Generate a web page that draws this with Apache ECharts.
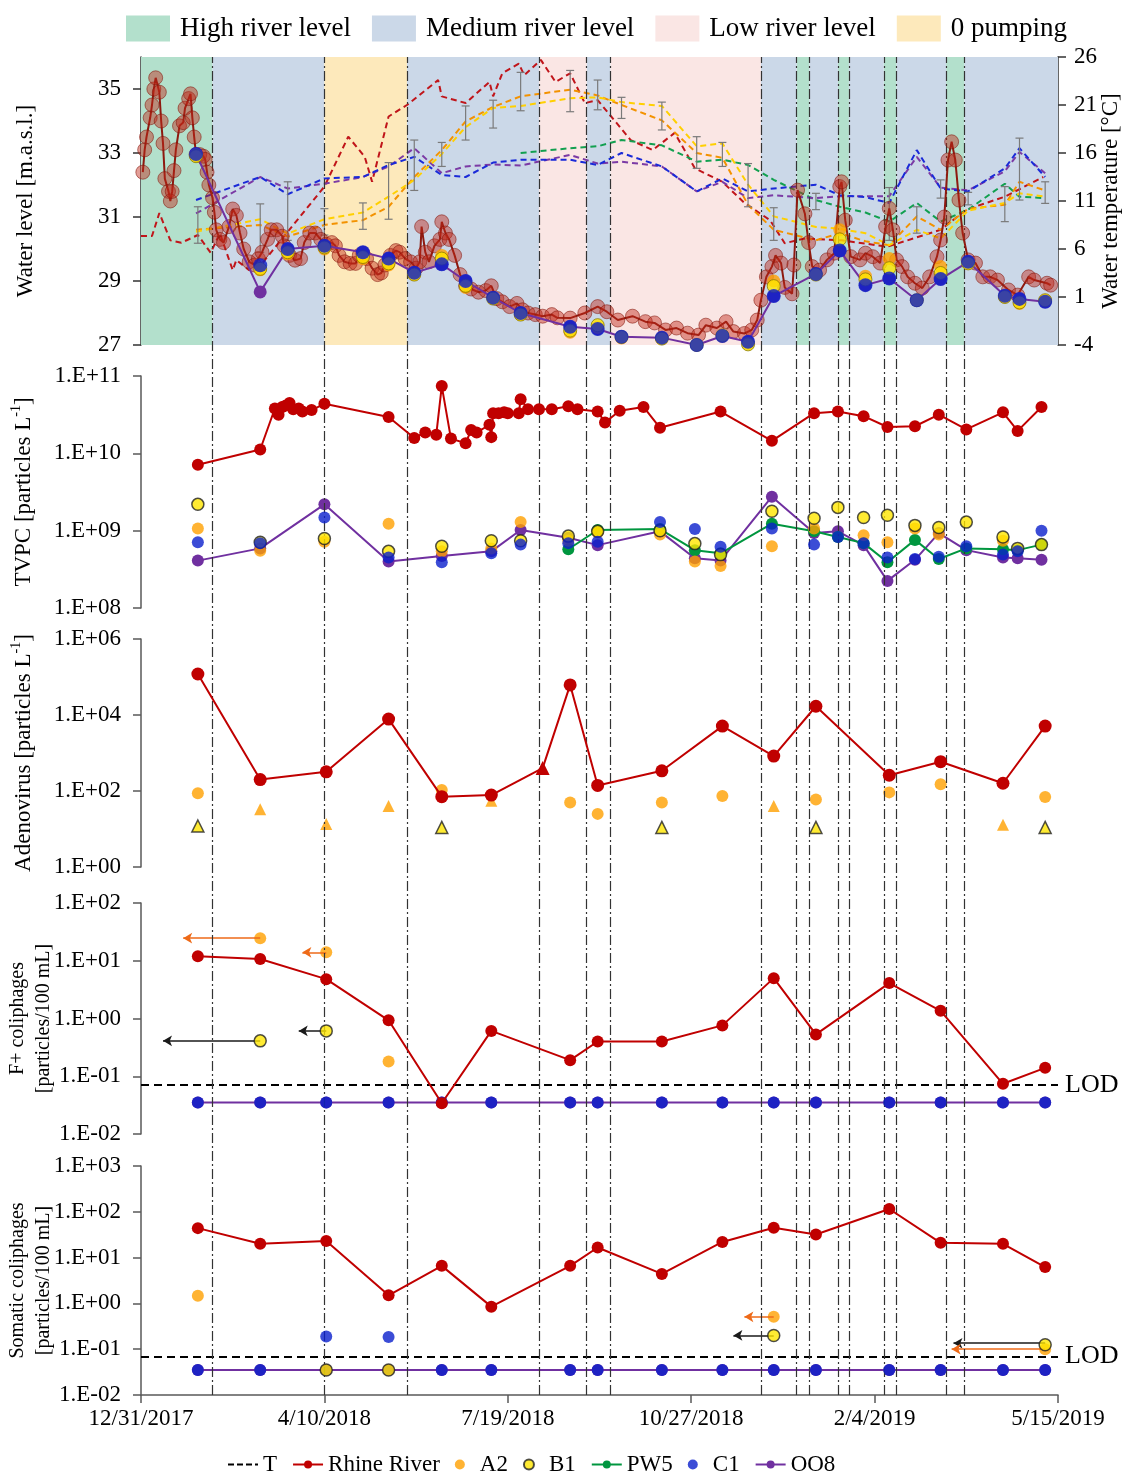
<!DOCTYPE html>
<html>
<head>
<meta charset="utf-8">
<script src="https://cdn.jsdelivr.net/npm/echarts@6/dist/echarts.min.js"></script>
<style>
  html, body { margin: 0; padding: 0; background: #fff; }
  #chart { width: 1132px; height: 1472px; }
</style>
</head>
<body>
<div id="chart"></div>
<script>
// x values are days after 12/31/2017
const bandEdges = [0, 39, 100, 145, 217, 243, 256, 338, 357.5, 364.5, 380, 386, 405, 412, 439, 449, 500];
const bandKinds = ['High river level', 'Medium river level', '0 pumping', 'Medium river level', 'Low river level',
  'Medium river level', 'Low river level', 'Medium river level', 'High river level', 'Medium river level',
  'High river level', 'Medium river level', 'High river level', 'Medium river level', 'High river level', 'Medium river level'];
const bandNames = ['High river level', 'Medium river level', 'Low river level', '0 pumping'];

// Rhine water level [m.a.s.l.]
const wlDays = [1, 2, 3, 5, 6, 7, 8, 10, 11, 12,
  13, 15, 16, 17, 18, 19, 21, 23, 24, 26,
  27, 28, 29, 30, 32, 34, 35, 36, 37, 39,
  40, 41, 43, 45, 48, 50, 52, 54, 56, 59,
  62, 64, 66, 69, 71, 74, 77, 78, 81, 84,
  87, 89, 92, 95, 98, 101, 104, 106, 108, 111,
  114, 117, 119, 121, 123, 126, 129, 131, 133, 136,
  139, 141, 144, 147, 150, 152, 153, 155, 157, 160,
  163, 164, 166, 168, 171, 174, 177, 180, 184, 188,
  191, 194, 197, 201, 205, 208, 211, 215, 219, 224,
  227, 234, 242, 249, 254, 260, 268, 275, 280, 286,
  292, 298, 304, 308, 314, 319, 323, 329, 333, 336,
  338, 341, 344, 346, 349, 351, 355, 356, 358, 362,
  364, 366, 370, 374, 378, 381, 382, 384, 387, 392,
  395, 399, 403, 406, 408, 410, 412, 415, 418, 422,
  426, 430, 434, 436, 438, 440, 442, 444, 446, 448,
  451, 455, 459, 463, 467, 473, 478, 484, 487, 494, 496];
const wlRhine = [32.4, 33.1, 33.5, 34.1, 34.5, 35.0, 35.35, 34.9, 34.0, 33.3,
  32.2, 31.8, 31.5, 31.8, 32.45, 33.1, 33.85, 33.95, 34.4, 34.7,
  34.85, 34.1, 33.5, 32.95, 32.95, 32.9, 32.8, 32.4, 32.0, 31.6,
  31.15, 30.6, 30.3, 30.2, 30.7, 31.25, 31.05, 30.5, 30.0, 29.6,
  29.5, 29.7, 29.9, 30.3, 30.6, 30.6, 30.4, 30.1, 29.8, 29.65,
  29.7, 30.2, 30.5, 30.5, 30.3, 30.15, 30.2, 30.1, 29.8, 29.6,
  29.55, 29.55, 29.8, 29.85, 29.7, 29.4, 29.2, 29.25, 29.5, 29.8,
  29.95, 29.9, 29.7, 29.6, 29.4, 29.6, 30.7, 29.9, 29.6, 30.1,
  30.3, 30.85, 30.5, 30.3, 29.8, 29.2, 28.85, 28.75, 28.65, 28.7,
  28.85, 28.45, 28.35, 28.2, 28.3, 28.1, 28.0, 27.95, 27.9, 27.95,
  27.85, 27.84, 28.0, 28.2, 28.04, 27.78, 27.9, 27.73, 27.69, 27.47,
  27.53, 27.37, 27.31, 27.62, 27.53, 27.73, 27.42, 27.36, 27.47, 27.78,
  28.4, 29.13, 29.45, 29.8, 29.56, 28.8, 28.6, 29.5, 31.84, 31.1,
  30.2, 29.45, 29.34, 29.66, 29.87, 31.95, 32.1, 30.9, 29.76, 29.66,
  29.87, 29.76, 29.56, 30.7, 31.27, 30.6, 29.66, 29.45, 29.13, 28.93,
  28.78, 29.13, 29.76, 30.28, 31.0, 32.78, 33.35, 32.78, 31.53, 30.5,
  29.66, 29.56, 29.13, 29.13, 29.03, 28.72, 28.56, 29.13, 29.03, 28.93, 28.87];

// groundwater level [m.a.s.l.]
const gwDays = [30, 65, 80, 100, 121, 135, 149, 164, 177, 192, 207, 234, 249, 262, 284, 303, 317, 331, 345, 368, 381, 395, 408, 423, 436, 451, 471, 479, 493];
const gwC1 = [32.97, 29.49, 30.0, 30.1, 29.9, 29.7, 29.26, 29.52, 29.0, 28.48, 28.0, 27.57, 27.5, 27.26, 27.23, 27.0, 27.28, 27.1, 28.53, 29.22, 29.95, 28.87, 29.08, 28.4, 29.06, 29.6, 28.54, 28.44, 28.35];
const gwOO8 = [32.97, 28.66, 30.0, 30.1, 29.9, 29.7, 29.26, 29.52, 29.0, 28.48, 28.0, 27.57, 27.5, 27.26, 27.23, 27.0, 27.28, 27.1, 28.53, 29.22, 29.95, 28.87, 29.08, 28.4, 29.06, 29.6, 28.54, 28.44, 28.35];
const gwB1 = [32.9, 29.38, 29.9, 30.05, 29.75, 29.55, 29.2, 29.7, 28.85, 28.45, 27.95, 27.45, 27.62, 27.25, 27.2, 27.0, 27.3, 27.02, 28.84, 29.2, 30.3, 29.05, 29.4, 28.4, 29.25, 29.55, 28.5, 28.33, 28.4];
const gwA2 = [32.95, 29.35, 29.85, 30.0, 29.7, 29.5, 29.2, 29.8, 28.8, 28.45, 27.95, 27.4, 27.55, 27.22, 27.2, 27.0, 27.28, 27.05, 29.0, 29.2, 30.6, 29.15, 29.7, 28.4, 29.45, 29.55, 28.5, 28.3, 28.4];

// water temperature [°C]
const tRhineDays = [0, 6, 10, 16, 22, 31, 38, 43, 50, 52, 59, 66, 100, 113, 122, 126, 135, 145, 162, 164,
  177, 190, 192, 197, 206, 209, 218, 226, 234, 242, 249, 267, 279, 291, 302, 317, 329, 343, 351, 362,
  382, 407, 436, 450, 471, 492];
const tRhine = [7.35, 7.35, 9.75, 6.9, 6.65, 7.46, 5.6, 7.65, 3.8, 4.85, 3.8, 4.5, 12.5, 17.7, 15.6, 13.0, 19.8, 21.0, 23.6, 21.9,
  21.2, 23.4, 21.9, 24.3, 25.3, 24.1, 25.7, 23.4, 24.3, 21.2, 21.5, 17.35, 16.3, 18.1, 14.4, 13.0, 10.8, 9.0, 6.6, 7.1,
  6.9, 6.24, 8.0, 10.1, 11.45, 13.5];
const tA2 = [8.0, 8.5, 7.3, 8.5, 9.0, 10.4, 13.5, 16.3, 19.3, 20.8, 21.9, 22.6, 22.0, 21.0, 19.4, 16.0, 15.5, 10.6, 8.0, 6.9, 7.65, 6.8, 6.4, 9.4, 8.0, 10.2, 10.6, 13.0, 12.1];
const tB1 = [7.8, 9.1, 7.6, 9.1, 9.8, 11.45, 13.2, 15.9, 18.7, 20.7, 20.9, 21.7, 21.8, 21.3, 20.9, 16.7, 17.0, 12.7, 9.4, 8.3, 8.1, 7.65, 6.4, 8.0, 7.1, 10.0, 10.8, 11.8, 11.45];
const tC1 = [11.1, 13.5, 11.7, 13.35, 13.5, 14.75, 15.6, 13.7, 13.5, 15.0, 15.3, 15.3, 14.75, 16.0, 14.6, 12.0, 13.35, 12.0, 12.3, 12.7, 11.6, 11.4, 10.8, 16.3, 12.3, 12.0, 14.4, 16.5, 13.5];
const tOO8 = [9.7, 13.5, 12.3, 12.8, 13.5, 14.6, 16.5, 13.9, 14.6, 14.8, 14.7, 15.8, 14.9, 15.1, 14.6, 12.0, 13.0, 11.3, 11.6, 11.3, 11.5, 11.5, 11.5, 15.6, 12.4, 12.1, 14.1, 16.1, 13.9];
const tPW5Days = [207, 234, 249, 262, 284, 303, 317, 331, 345, 368, 381, 395, 408, 423, 436, 451, 471, 479, 493];
const tPW5 = [16.0, 16.5, 16.7, 17.35, 16.8, 15.1, 15.3, 14.75, 13.2, 11.1, 10.4, 9.8, 8.85, 10.8, 8.85, 10.1, 12.8, 11.45, 11.3];
const ebDays = [31, 65, 80, 100, 121, 135, 149, 164, 177, 192, 207, 234, 249, 262, 284, 303, 317, 331, 345, 368, 408, 423, 436, 451, 471, 479, 493];
const ebLow = [6.6, 5.65, 6.9, 7.45, 8.05, 9.1, 12.1, 14.6, 17.35, 18.6, 20.4, 20.3, 20.5, 19.6, 18.4, 14.4, 14.6, 10.4, 6.9, 10.1, 6.9, 7.65, 11.3, 10.6, 8.85, 11.1, 10.75];
const ebHigh = [10.4, 10.7, 13.0, 10.2, 10.8, 15.0, 17.35, 17.1, 20.9, 21.5, 24.4, 24.6, 23.6, 21.8, 21.3, 17.7, 17.1, 14.9, 10.3, 11.8, 12.4, 10.4, 13.2, 11.9, 12.5, 17.55, 13.0];

// TVPC [particles/L]
const tvpcRhineDays = [31, 65, 73, 75, 77, 79, 81, 83, 86, 88, 93, 100, 135, 149, 155, 161, 164, 169, 177, 180,
  183, 190, 191, 192, 195, 198, 200, 206, 207, 211, 217, 224, 233, 238, 249, 253, 261, 274, 283, 316,
  344, 367, 380, 394, 407, 422, 435, 450, 470, 478, 491];
const tvpcRhine = [7.1e9, 1.12e10, 3.8e10, 3.16e10, 3.98e10, 4.17e10, 4.47e10, 3.72e10, 3.8e10, 3.47e10,
  3.63e10, 4.37e10, 2.95e10, 1.58e10, 1.86e10, 1.74e10, 7.41e10, 1.55e10, 1.35e10, 2.0e10,
  1.86e10, 2.34e10, 1.62e10, 3.31e10, 3.31e10, 3.39e10, 3.31e10, 3.31e10, 5.0e10, 3.72e10,
  3.72e10, 3.72e10, 4.07e10, 3.72e10, 3.47e10, 2.51e10, 3.55e10, 3.98e10, 2.14e10, 3.47e10,
  1.45e10, 3.31e10, 3.47e10, 3.02e10, 2.19e10, 2.24e10, 3.16e10, 2.04e10, 3.39e10, 1.95e10, 3.98e10];
const tvpcDays = [31, 65, 100, 135, 164, 191, 207, 233, 249, 283, 302, 316, 344, 367, 380, 394, 407, 422, 435, 450, 470, 478, 491];
const tvpcC1 = [7.1e8, 6.9e8, 1.48e9, 4.5e8, 3.9e8, 5.1e8, 6.6e8, 6.9e8, 7.2e8, 1.29e9, 1.05e9, 6.2e8, 1.07e9, 6.6e8, 8.3e8, 6.9e8, 4.5e8, 4.3e8, 4.6e8, 6.3e8, 4.9e8, 5.4e8, 1.0e9];
const tvpcOO8 = [4.1e8, 5.9e8, 2.19e9, 4.0e8, 4.7e8, 5.4e8, 1.02e9, 8.1e8, 6.5e8, 9.8e8, 4.4e8, 4.1e8, 2.75e9, 9.3e8, 9.8e8, 6.5e8, 2.24e8, 4.2e8, 9.3e8, 5.6e8, 4.5e8, 4.4e8, 4.2e8];
const tvpcB1 = [2.19e9, 7.1e8, 7.9e8, 5.4e8, 6.3e8, 7.4e8, 7.4e8, 8.5e8, 9.8e8, 1.0e9, 6.8e8, 4.9e8, 1.78e9, 1.45e9, 2.0e9, 1.48e9, 1.58e9, 1.17e9, 1.1e9, 1.29e9, 8.3e8, 5.9e8, 6.6e8];
const tvpcA2 = [1.07e9, 5.5e8, 7.2e8, 1.23e9, 5.4e8, 5.9e8, 1.29e9, 7.4e8, 9.5e8, 8.9e8, 4.0e8, 3.5e8, 6.3e8, 1.07e9, null, 8.7e8, 7.1e8, 1.07e9, 8.9e8, null, 7.4e8, null, null];
const tvpcPW5Days = [233, 249, 283, 302, 316, 344, 367, 380, 394, 407, 422, 435, 450, 470, 478, 491];
const tvpcPW5 = [5.75e8, 1.02e9, 1.05e9, 5.6e8, 5.1e8, 1.23e9, 9.8e8, 8.3e8, 6.9e8, 3.9e8, 7.6e8, 4.3e8, 5.9e8, 5.75e8, 5.6e8, 6.6e8];

// Adenovirus [particles/L]
const adenoRhineDays = [31, 65, 101, 135, 164, 191, 219, 234, 249, 284, 317, 345, 368, 408, 436, 470, 493];
const adenoRhine = [1.2e5, 200, 320, 7800, 71, 78, 400, 6.2e4, 140, 340, 5100, 830, 1.7e4, 260, 590, 160, 5100];
const adenoRhineTri = [0, 0, 0, 0, 0, 0, 1, 0, 0, 0, 0, 0, 0, 0, 0, 0, 0];
const adenoA2Days = [31, 164, 234, 249, 284, 317, 368, 408, 436, 493];
const adenoA2 = [87, 107, 50, 25, 50, 74, 60, 92, 150, 70];
const adenoA2TriDays = [65, 101, 135, 191, 345, 470];
const adenoA2Tri = [33, 13.5, 40, 55, 40, 13];
const adenoB1TriDays = [31, 164, 284, 368, 493];
const adenoB1Tri = [12, 11, 11, 11, 11];

// coliphages [particles/100 mL]
const sampleDays = [31, 65, 101, 135, 164, 191, 234, 249, 284, 317, 345, 368, 408, 436, 470, 493];
const LOD = 0.07;
const fRhine = [12, 10.7, 4.8, 0.93, 0.034, 0.61, 0.19, 0.40, 0.40, 0.76, 5.0, 0.53, 4.1, 1.36, 0.074, 0.14];
const fC1 = [0.035, 0.035, 0.035, 0.035, 0.035, 0.035, 0.035, 0.035, 0.035, 0.035, 0.035, 0.035, 0.035, 0.035, 0.035, 0.035];
const fOO8 = [0.035, 0.035, 0.035, 0.035, 0.035, 0.035, 0.035, 0.035, 0.035, 0.035, 0.035, 0.035, 0.035, 0.035, 0.035, 0.035];
const fA2Days = [65, 101, 135];
const fA2 = [24.6, 14, 0.18];
const fB1Days = [65, 101];
const fB1 = [0.41, 0.61];
const fArrowSite = ['A2', 'A2', 'B1', 'B1'];
const fArrowFrom = [65, 101, 65, 101];
const fArrowTo = [23, 88, 12, 86];
const fArrowVal = [24.6, 14, 0.41, 0.61];

const sRhine = [44, 20, 23, 1.5, 6.6, 0.85, 6.6, 16.6, 4.4, 22, 45, 32, 115, 21, 20, 6.2];
const sC1 = [0.035, 0.035, 0.19, 0.185, 0.035, 0.035, 0.035, 0.035, 0.035, 0.035, 0.035, 0.035, 0.035, 0.035, 0.035, 0.035];
const sOO8 = [0.035, 0.035, 0.035, 0.035, 0.035, 0.035, 0.035, 0.035, 0.035, 0.035, 0.035, 0.035, 0.035, 0.035, 0.035, 0.035];
const sA2Days = [31, 345, 493];
const sA2 = [1.47, 0.51, 0.1];
const sB1Days = [101, 135, 345, 493];
const sB1 = [0.035, 0.035, 0.2, 0.125];
const sArrowSite = ['A2', 'B1', 'B1', 'A2'];
const sArrowFrom = [345, 345, 493, 493];
const sArrowTo = [329, 323, 443, 442];
const sArrowVal = [0.51, 0.2, 0.135, 0.1];

// ---------------------------------------------------------------
const FONT = '"Liberation Serif", "Times New Roman", serif';
const RED = '#c00000', ORANGE = '#ffa000', YELLOW = '#ffe600', GREEN = '#00963f', BLUE = '#0a1fcc', PURPLE = '#7030a0';
const bandColor = {
  'High river level': '#b3e0cc',
  'Medium river level': '#cbd8e8',
  'Low river level': '#fae6e4',
  '0 pumping': '#fde9bb'
};
const AXIS_C = '#595959';

function dayLabel(d) {
  const t = new Date(Date.UTC(2017, 11, 31) + d * 86400000);
  return (t.getUTCMonth() + 1) + '/' + t.getUTCDate() + '/' + t.getUTCFullYear();
}
function sci(v) {
  const e = Math.round(Math.log10(v));
  return '1.E' + (e < 0 ? '-' : '+') + String(Math.abs(e)).padStart(2, '0');
}
function pts(xs, ys) {
  const out = [];
  xs.forEach((x, i) => { if (ys[i] != null) out.push([x, ys[i]]); });
  return out;
}

const chart = echarts.init(document.getElementById('chart'));

const gridBox = (top, height) => ({ left: 141, right: 74, top: top, height: height, outerBoundsMode: 'none', containLabel: false });
const grids = [
  gridBox(57, 288),
  gridBox(376, 232),
  gridBox(639, 228),
  gridBox(903, 231),
  gridBox(1166, 229),
  gridBox(57, 1338)
];

function xAx(g, show) {
  return {
    type: 'value', gridIndex: g, min: 0, max: 500, interval: 100, show: show,
    axisLine: { lineStyle: { color: AXIS_C, width: 1.5 } },
    axisTick: { length: 8, lineStyle: { color: AXIS_C, width: 1.5 } },
    axisLabel: { formatter: dayLabel, fontFamily: FONT, fontSize: 23, color: '#000', margin: 12 },
    splitLine: { show: false }
  };
}
const nameStyle = (size) => ({
  fontFamily: FONT, fontSize: size, color: '#000', lineHeight: size + 6,
  rich: { sup: { fontFamily: FONT, fontSize: 14, color: '#000', verticalAlign: 'top' } }
});
function logAx(g, min, max, base, name, gap, size) {
  return {
    type: 'log', gridIndex: g, logBase: base, min: min, max: max,
    axisLine: { show: true, lineStyle: { color: AXIS_C, width: 1.5 } },
    axisTick: { show: true, length: 8, lineStyle: { color: AXIS_C, width: 1.5 } },
    axisLabel: { formatter: sci, fontFamily: FONT, fontSize: 23, color: '#000', margin: 20 },
    splitLine: { show: false }, minorTick: { show: false },
    name: name, nameLocation: 'middle', nameRotate: 90, nameGap: gap, nameMoveOverlap: false,
    nameTextStyle: nameStyle(size)
  };
}

const series = [];
// legend entries
series.push({ name: 'T', type: 'line', xAxisIndex: 5, yAxisIndex: 6, data: [], symbol: 'none', showSymbol: false,
  lineStyle: { color: '#000', type: [6, 3], width: 1.8 }, itemStyle: { color: '#000', opacity: 0 } });
series.push({ name: 'Rhine River', type: 'line', xAxisIndex: 5, yAxisIndex: 6, data: [], symbol: 'circle', symbolSize: 12,
  lineStyle: { color: RED, width: 2 }, itemStyle: { color: RED } });
series.push({ name: 'A2', type: 'scatter', xAxisIndex: 5, yAxisIndex: 6, data: [], symbolSize: 12, itemStyle: { color: ORANGE } });
series.push({ name: 'B1', type: 'scatter', xAxisIndex: 5, yAxisIndex: 6, data: [], symbolSize: 12,
  itemStyle: { color: YELLOW, borderColor: '#222', borderWidth: 1.5 } });
series.push({ name: 'PW5', type: 'line', xAxisIndex: 5, yAxisIndex: 6, data: [], symbol: 'circle', symbolSize: 12,
  lineStyle: { color: GREEN, width: 2 }, itemStyle: { color: GREEN } });
series.push({ name: 'C1', type: 'scatter', xAxisIndex: 5, yAxisIndex: 6, data: [], symbolSize: 12, itemStyle: { color: BLUE } });
series.push({ name: 'OO8', type: 'line', xAxisIndex: 5, yAxisIndex: 6, data: [], symbol: 'circle', symbolSize: 12,
  lineStyle: { color: PURPLE, width: 2 }, itemStyle: { color: PURPLE } });

// river level periods (panel 1 background)
bandNames.forEach(nm => {
  const areas = [];
  bandKinds.forEach((k, i) => { if (k === nm) areas.push([{ xAxis: bandEdges[i] }, { xAxis: bandEdges[i + 1] }]); });
  series.push({
    name: nm, type: 'line', xAxisIndex: 0, yAxisIndex: 0, data: [], z: 0,
    itemStyle: { color: bandColor[nm] }, lineStyle: { color: bandColor[nm] },
    markArea: { silent: true, itemStyle: { color: bandColor[nm], opacity: 1 }, data: areas }
  });
});

// panel 1: temperatures (right axis)
function tLine(name, days, vals, color) {
  series.push({ name: name, type: 'line', xAxisIndex: 0, yAxisIndex: 1, data: pts(days, vals), symbol: 'none', z: 3,
    lineStyle: { color: color, type: [6, 4], width: 2 } });
}
tLine('T Rhine', tRhineDays, tRhine, '#c0151a');
tLine('T PW5', tPW5Days, tPW5, '#12a050');
tLine('T OO8', gwDays, tOO8, '#7b3aa5');
tLine('T C1', gwDays, tC1, '#1a2ad8');
tLine('T A2', gwDays, tA2, '#f39200');
tLine('T B1', gwDays, tB1, '#ffd000');
series.push({
  name: 'T sd', type: 'custom', xAxisIndex: 0, yAxisIndex: 1, z: 4,
  data: ebDays.map((d, i) => [d, ebLow[i], ebHigh[i]]),
  encode: { x: 0, y: [1, 2] },
  renderItem: function (params, api) {
    const lo = api.coord([api.value(0), api.value(1)]);
    const hi = api.coord([api.value(0), api.value(2)]);
    const st = { stroke: '#7a7a7a', lineWidth: 1.2 };
    return { type: 'group', children: [
      { type: 'line', shape: { x1: lo[0], y1: lo[1], x2: hi[0], y2: hi[1] }, style: st },
      { type: 'line', shape: { x1: lo[0] - 4, y1: lo[1], x2: lo[0] + 4, y2: lo[1] }, style: st },
      { type: 'line', shape: { x1: hi[0] - 4, y1: hi[1], x2: hi[0] + 4, y2: hi[1] }, style: st }
    ] };
  }
});
// panel 1: water levels (left axis)
series.push({ name: 'WL Rhine', type: 'line', xAxisIndex: 0, yAxisIndex: 0, data: pts(wlDays, wlRhine), z: 5,
  symbol: 'circle', symbolSize: 14,
  itemStyle: { color: 'rgba(192,40,25,0.45)', borderColor: 'rgba(130,20,10,0.55)', borderWidth: 1 },
  lineStyle: { color: '#8e1a10', width: 2 } });
series.push({ name: 'WL OO8', type: 'line', xAxisIndex: 0, yAxisIndex: 0, data: pts(gwDays, gwOO8), z: 6,
  symbol: 'circle', symbolSize: 13, itemStyle: { color: PURPLE }, lineStyle: { color: PURPLE, width: 2 } });
series.push({ name: 'WL A2', type: 'scatter', xAxisIndex: 0, yAxisIndex: 0, data: pts(gwDays, gwA2), z: 7,
  symbolSize: 13, itemStyle: { color: ORANGE } });
series.push({ name: 'WL B1', type: 'scatter', xAxisIndex: 0, yAxisIndex: 0, data: pts(gwDays, gwB1), z: 8,
  symbolSize: 13, itemStyle: { color: YELLOW, borderColor: '#8a7a00', borderWidth: 1 } });
series.push({ name: 'WL C1', type: 'scatter', xAxisIndex: 0, yAxisIndex: 0, data: pts(gwDays, gwC1), z: 9,
  symbolSize: 14, itemStyle: { color: BLUE } });

// generic helpers for the lower panels
function sLine(name, xi, days, vals, color, z) {
  series.push({ name: name, type: 'line', xAxisIndex: xi, yAxisIndex: xi + 1, data: pts(days, vals), z: z,
    symbol: 'circle', symbolSize: 12, itemStyle: { color: color }, lineStyle: { color: color, width: 2 } });
}
function sDots(name, xi, days, vals, style, z, symbol) {
  series.push({ name: name, type: 'scatter', xAxisIndex: xi, yAxisIndex: xi + 1, data: pts(days, vals), z: z,
    symbol: symbol || 'circle', symbolSize: 12, itemStyle: style });
}
const stA2 = { color: ORANGE };
const stB1 = { color: YELLOW, borderColor: '#222', borderWidth: 1.5 };
const stC1 = { color: BLUE };

// panel 2: TVPC
sLine('OO8', 1, tvpcDays, tvpcOO8, PURPLE, 2);
sLine('PW5', 1, tvpcPW5Days, tvpcPW5, GREEN, 3);
sDots('A2', 1, tvpcDays, tvpcA2, stA2, 4);
sDots('B1', 1, tvpcDays, tvpcB1, stB1, 5);
sDots('C1', 1, tvpcDays, tvpcC1, stC1, 6);
sLine('Rhine River', 1, tvpcRhineDays, tvpcRhine, RED, 7);

// panel 3: Adenovirus
sDots('A2', 2, adenoA2Days, adenoA2, stA2, 4);
sDots('A2', 2, adenoA2TriDays, adenoA2Tri, stA2, 4, 'triangle');
sDots('B1', 2, adenoB1TriDays, adenoB1Tri, stB1, 5, 'triangle');
series.push({ name: 'Rhine River', type: 'line', xAxisIndex: 2, yAxisIndex: 3, z: 7,
  data: adenoRhineDays.map((d, i) => adenoRhineTri[i]
    ? { value: [d, adenoRhine[i]], symbol: 'triangle', symbolSize: 14 }
    : { value: [d, adenoRhine[i]] }),
  symbol: 'circle', symbolSize: 13, itemStyle: { color: RED }, lineStyle: { color: RED, width: 2 } });

// arrows (values reported as "less than")
function arrows(xi, sites, from, to, vals) {
  sites.forEach((s, i) => {
    const col = s === 'A2' ? '#ee6a18' : '#1a1a1a';
    series.push({ name: 'arrow', type: 'line', xAxisIndex: xi, yAxisIndex: xi + 1, data: [], z: 3,
      markLine: { silent: true, symbol: ['none', 'arrow'], symbolSize: [8, 9], label: { show: false },
        lineStyle: { type: 'solid', color: col, width: 1.5 },
        data: [[{ coord: [from[i], vals[i]] }, { coord: [to[i], vals[i]] }]] } });
  });
}
function lodLine(xi) {
  series.push({ name: 'LOD', type: 'line', xAxisIndex: xi, yAxisIndex: xi + 1, data: [], z: 2,
    markLine: { silent: true, symbol: 'none',
      lineStyle: { type: [8, 5], color: '#000', width: 2 },
      label: { show: true, position: 'end', formatter: 'LOD', fontFamily: FONT, fontSize: 26, color: '#000', distance: 7 },
      data: [{ yAxis: LOD }] } });
}

// panel 4: F+ coliphages
lodLine(3);
arrows(3, fArrowSite, fArrowFrom, fArrowTo, fArrowVal);
sLine('OO8', 3, sampleDays, fOO8, PURPLE, 2);
sDots('A2', 3, fA2Days, fA2, stA2, 4);
sDots('B1', 3, fB1Days, fB1, stB1, 5);
sDots('C1', 3, sampleDays, fC1, stC1, 6);
sLine('Rhine River', 3, sampleDays, fRhine, RED, 7);

// panel 5: somatic coliphages
lodLine(4);
arrows(4, sArrowSite, sArrowFrom, sArrowTo, sArrowVal);
sLine('OO8', 4, sampleDays, sOO8, PURPLE, 2);
sDots('A2', 4, sA2Days, sA2, stA2, 4);
sDots('C1', 4, sampleDays, sC1, stC1, 5);
sDots('B1', 4, sB1Days, sB1, stB1, 6);
sLine('Rhine River', 4, sampleDays, sRhine, RED, 7);

// period boundaries across all panels
series.push({ name: 'periods', type: 'line', xAxisIndex: 5, yAxisIndex: 6, data: [], z: 10,
  markLine: { silent: true, symbol: 'none', label: { show: false },
    lineStyle: { type: [10, 3, 2, 3], color: '#333', width: 1.2 },
    data: bandEdges.slice(1, -1).map(d => ({ xAxis: d })) } });

const option = {
  animation: false,
  backgroundColor: '#fff',
  textStyle: { fontFamily: FONT },
  grid: grids,
  legend: [
    { data: bandNames, top: 10, left: 121, icon: 'rect', itemWidth: 44, itemHeight: 26, itemGap: 21,
      selectedMode: false, textStyle: { fontFamily: FONT, fontSize: 27, color: '#000', padding: [0, 0, 0, 5] } },
    { data: [{ name: 'T', itemStyle: { opacity: 0 } }, 'Rhine River', 'A2', 'B1', 'PW5', 'C1', 'OO8'],
      top: 1448, left: 222, itemWidth: 30, itemHeight: 10, itemGap: 15, selectedMode: false,
      textStyle: { fontFamily: FONT, fontSize: 23, color: '#000' } }
  ],
  xAxis: [xAx(0, false), xAx(1, false), xAx(2, false), xAx(3, false), xAx(4, true), xAx(5, false)],
  yAxis: [
    { type: 'value', gridIndex: 0, min: 27, max: 36,
      axisLine: { show: true, lineStyle: { color: '#333', width: 1.5 } },
      axisTick: { show: true, length: 8, customValues: [27, 29, 31, 33, 35], lineStyle: { color: '#333', width: 1.5 } },
      axisLabel: { customValues: [27, 29, 31, 33, 35], fontFamily: FONT, fontSize: 23, color: '#000', margin: 20 },
      splitLine: { show: false },
      name: 'Water level [m.a.s.l.]', nameLocation: 'middle', nameRotate: 90, nameGap: 101, nameMoveOverlap: false,
      nameTextStyle: nameStyle(23) },
    { type: 'value', gridIndex: 0, position: 'right', min: -4, max: 26,
      axisLine: { show: true, lineStyle: { color: '#333', width: 1.5 } },
      axisTick: { show: true, length: 8, customValues: [-4, 1, 6, 11, 16, 21, 26], lineStyle: { color: '#333', width: 1.5 } },
      axisLabel: { customValues: [-4, 1, 6, 11, 16, 21, 26], fontFamily: FONT, fontSize: 23, color: '#000', margin: 16 },
      splitLine: { show: false },
      name: 'Water temperature [°C]', nameLocation: 'middle', nameRotate: 90, nameGap: 38, nameMoveOverlap: false,
      nameTextStyle: nameStyle(23) },
    logAx(1, 1e8, 1e11, 10, 'TVPC [particles L{sup|-1}]', 103, 23),
    logAx(2, 1, 1e6, 100, 'Adenovirus [particles L{sup|-1}]', 103, 23),
    logAx(3, 0.01, 100, 10, 'F+ coliphages\n[particles/100 mL]', 84, 20),
    logAx(4, 0.01, 1000, 10, 'Somatic coliphages\n[particles/100 mL]', 84, 20),
    { type: 'value', gridIndex: 5, min: 0, max: 1, show: false }
  ],
  series: series
};
chart.setOption(option);
</script>
</body>
</html>
